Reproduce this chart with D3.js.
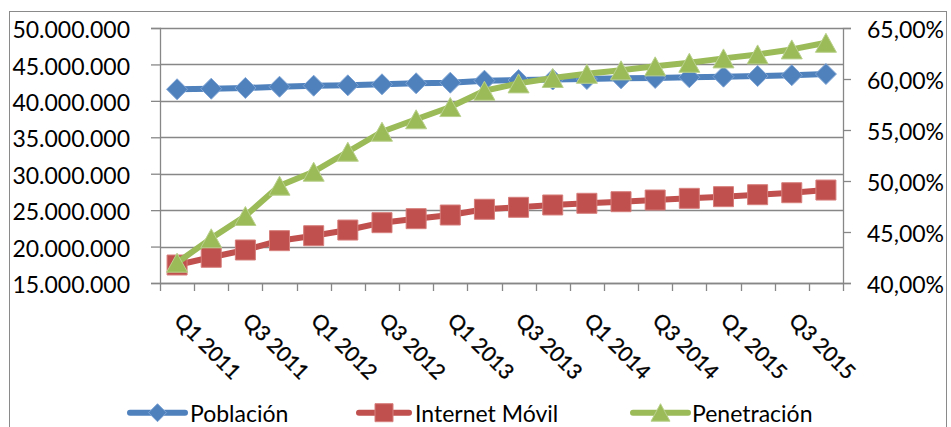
<!DOCTYPE html>
<html>
<head>
<meta charset="utf-8">
<script src="https://cdn.jsdelivr.net/npm/d3@7"></script>
<style>
  html, body { margin: 0; padding: 0; background: #ffffff; }
  svg { display: block; }
  text { font-family: Lato, "Open Sans", sans-serif; fill: #000; }
</style>
</head>
<body>
<svg id="chart" width="951" height="427"></svg>
<script>
// Quarters 2011–2015
const categories = [
  "Q1 2011", "Q2 2011", "Q3 2011", "Q4 2011",
  "Q1 2012", "Q2 2012", "Q3 2012", "Q4 2012",
  "Q1 2013", "Q2 2013", "Q3 2013", "Q4 2013",
  "Q1 2014", "Q2 2014", "Q3 2014", "Q4 2014",
  "Q1 2015", "Q2 2015", "Q3 2015", "Q4 2015"
];
// Only every other quarter carries a label on the x axis
const xTickLabels = [
  "Q1 2011", "Q3 2011", "Q1 2012", "Q3 2012", "Q1 2013",
  "Q3 2013", "Q1 2014", "Q3 2014", "Q1 2015", "Q3 2015"
];

// Población (left axis)
const poblacion = [
  41590000, 41670000, 41770000, 41940000, 42080000,
  42130000, 42270000, 42410000, 42490000, 42770000,
  42860000, 42930000, 43000000, 43090000, 43150000,
  43240000, 43320000, 43410000, 43520000, 43680000
];
// Internet Móvil (left axis)
const internetMovil = [
  17470000, 18530000, 19530000, 20810000, 21490000,
  22270000, 23280000, 23830000, 24330000, 25120000,
  25390000, 25710000, 25940000, 26160000, 26390000,
  26620000, 26850000, 27120000, 27390000, 27760000
];
// Penetración (right axis)
const penetracion = [
  0.4199, 0.4438, 0.4657, 0.4954, 0.5091,
  0.5287, 0.5483, 0.5605, 0.5725, 0.5885,
  0.5957, 0.6010, 0.6051, 0.6085, 0.6124,
  0.6159, 0.6202, 0.6241, 0.6290, 0.6355
];

const leftTicks  = [15000000, 20000000, 25000000, 30000000, 35000000, 40000000, 45000000, 50000000];
const rightTicks = [0.40, 0.45, 0.50, 0.55, 0.60, 0.65];

const colors = { poblacion: "#4F81BD", internet: "#C0504D", penetracion: "#9BBB59" };
const edges  = { poblacion: "#7FA4D4", internet: "#D67F7C", penetracion: "#B9D08C" };

const esLocale = d3.formatLocale({ decimal: ",", thousands: ".", grouping: [3], currency: ["", " €"] });
const fmtLeft  = esLocale.format(",d");
const fmtRight = esLocale.format(".2%");

const svg = d3.select("#chart");
const plot = { left: 160, right: 843, top: 28, bottom: 283 };
const gridColor = "#878787";

// Chart frame
svg.append("rect")
  .attr("x", 9.5).attr("y", 11.5)
  .attr("width", 937).attr("height", 440)
  .attr("fill", "none").attr("stroke", "#8a8a8a").attr("stroke-width", 1);

const x = d3.scaleBand().domain(categories).range([plot.left, plot.right]).paddingInner(0).paddingOuter(0);
const cx = d => x(d) + x.bandwidth() / 2;
const yL = d3.scaleLinear().domain([15000000, 50000000]).range([plot.bottom, plot.top]);
const yR = d3.scaleLinear().domain([0.40, 0.65]).range([plot.bottom, plot.top]);

// Horizontal gridlines
svg.append("g").selectAll("line").data(leftTicks).join("line")
  .attr("x1", plot.left).attr("x2", plot.right)
  .attr("y1", d => Math.round(yL(d)) + 0.5).attr("y2", d => Math.round(yL(d)) + 0.5)
  .attr("stroke", gridColor).attr("stroke-width", 1.3);

// Left axis
const gL = svg.append("g").attr("transform", `translate(${plot.left},0)`)
  .call(d3.axisLeft(yL).tickValues(leftTicks).tickFormat(fmtLeft).tickSize(9).tickPadding(21));
gL.selectAll("text").attr("font-size", 23).attr("dy", "0.42em");

// Right axis
const gR = svg.append("g").attr("transform", `translate(${plot.right},0)`)
  .call(d3.axisRight(yR).tickValues(rightTicks).tickFormat(fmtRight).tickSize(8).tickPadding(16));
gR.selectAll("text").attr("font-size", 23).attr("dy", "0.42em");

[gL, gR].forEach(g => {
  g.select(".domain").attr("stroke", gridColor).attr("stroke-width", 1.3);
  g.selectAll(".tick line").attr("stroke", gridColor).attr("stroke-width", 1.3);
  g.attr("font-family", null);
});

// Bottom axis line and tick marks at category boundaries
const boundaries = categories.map(d => x(d)).concat([plot.right]);
svg.append("line")
  .attr("x1", plot.left).attr("x2", plot.right)
  .attr("y1", plot.bottom + 0.5).attr("y2", plot.bottom + 0.5)
  .attr("stroke", gridColor).attr("stroke-width", 1.3);
svg.append("g").selectAll("line").data(boundaries).join("line")
  .attr("x1", d => Math.round(d) + 0.5).attr("x2", d => Math.round(d) + 0.5)
  .attr("y1", plot.bottom).attr("y2", plot.bottom + 8)
  .attr("stroke", gridColor).attr("stroke-width", 1.3);

// Rotated category labels
svg.append("g").selectAll("text").data(xTickLabels).join("text")
  .attr("transform", d => `translate(${cx(d) - 4},322) rotate(45)`)
  .attr("font-size", 21)
  .attr("stroke", "#000").attr("stroke-width", 0.35)
  .text(d => d);

// Marker shapes
const diamond = "M0,-10.5L10.5,0L0,10.5L-10.5,0Z";
const square = "M-10,-10H10V10H-10Z";
const triangle = "M0,-9.5L10.5,9.5L-10.5,9.5Z";

function drawSeries(values, yScale, key, shape) {
  const g = svg.append("g");
  const line = d3.line().x((d, i) => cx(categories[i])).y(d => yScale(d));
  g.append("path").datum(values)
    .attr("d", line).attr("fill", "none")
    .attr("stroke", colors[key]).attr("stroke-width", 6)
    .attr("stroke-linejoin", "round");
  g.selectAll("path.m").data(values).join("path").attr("class", "m")
    .attr("d", shape)
    .attr("transform", (d, i) => `translate(${cx(categories[i])},${yScale(d)})`)
    .attr("fill", colors[key]).attr("stroke", edges[key]).attr("stroke-width", 1);
}

drawSeries(poblacion, yL, "poblacion", diamond);
drawSeries(internetMovil, yL, "internet", square);
drawSeries(penetracion, yR, "penetracion", triangle);

// Legend
const legendItems = [
  { name: "Población", key: "poblacion", shape: "M0,-9L9,0L0,9L-9,0Z", x0: 130, x1: 185, tx: 190 },
  { name: "Internet Móvil", key: "internet", shape: "M-9,-9H9V9H-9Z", x0: 359, x1: 409, tx: 415 },
  { name: "Penetración", key: "penetracion", shape: "M0,-9L9.5,8.5L-9.5,8.5Z", x0: 633, x1: 688, tx: 692 }
];
const ly = 412.7;
const lg = svg.append("g").selectAll("g").data(legendItems).join("g");
lg.append("line")
  .attr("x1", d => d.x0).attr("x2", d => d.x1).attr("y1", ly).attr("y2", ly)
  .attr("stroke", d => colors[d.key]).attr("stroke-width", 6).attr("stroke-linecap", "round");
lg.append("path")
  .attr("d", d => d.shape)
  .attr("transform", d => `translate(${(d.x0 + d.x1) / 2},${ly})`)
  .attr("fill", d => colors[d.key]).attr("stroke", d => edges[d.key]).attr("stroke-width", 1);
lg.append("text")
  .attr("x", d => d.tx).attr("y", 421.5)
  .attr("font-size", 23)
  .text(d => d.name);
</script>
</body>
</html>
